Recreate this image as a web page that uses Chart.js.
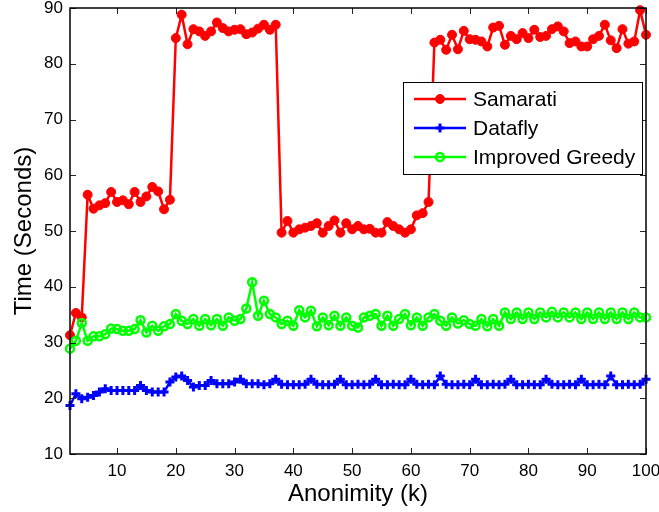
<!DOCTYPE html>
<html>
<head>
<meta charset="utf-8">
<script src="https://cdn.jsdelivr.net/npm/chart.js@4.4.0/dist/chart.umd.min.js"></script>
<style>
  html, body { margin: 0; padding: 0; background: #fff; }
</style>
</head>
<body>
<canvas id="timeChart" width="659" height="512"></canvas>
<script>
// anonimity level k
const kValues = [
  2, 3, 4, 5, 6, 7, 8, 9, 10, 11, 12, 13, 14, 15, 16, 17, 18, 19, 20, 21,
  22, 23, 24, 25, 26, 27, 28, 29, 30, 31, 32, 33, 34, 35, 36, 37, 38, 39, 40, 41,
  42, 43, 44, 45, 46, 47, 48, 49, 50, 51, 52, 53, 54, 55, 56, 57, 58, 59, 60, 61,
  62, 63, 64, 65, 66, 67, 68, 69, 70, 71, 72, 73, 74, 75, 76, 77, 78, 79, 80, 81,
  82, 83, 84, 85, 86, 87, 88, 89, 90, 91, 92, 93, 94, 95, 96, 97, 98, 99, 100
];

const samarati = [
  31.3, 35.3, 34.5, 56.5, 54.0, 54.6, 55.0, 57.0, 55.2, 55.5, 54.8, 57.0, 55.2, 56.2, 57.9, 57.1, 53.9, 55.6, 84.6, 88.8,
  83.5, 86.2, 85.8, 85.0, 85.8, 87.4, 86.4, 85.8, 86.1, 86.2, 85.3, 85.6, 86.3, 87.0, 86.1, 87.0, 49.7, 51.8, 49.7, 50.3,
  50.6, 50.9, 51.4, 49.7, 50.9, 51.9, 49.7, 51.4, 50.3, 50.9, 50.3, 50.4, 49.7, 49.7, 51.6, 50.9, 50.3, 49.7, 50.3, 52.8,
  53.2, 55.2, 83.8, 84.3, 82.5, 85.2, 82.6, 85.9, 84.4, 84.3, 84.0, 83.1, 86.5, 86.8, 83.4, 85.0, 84.4, 85.5, 84.6, 86.1,
  84.8, 85.0, 86.2, 86.7, 85.8, 83.7, 84.0, 83.1, 83.1, 84.4, 85.0, 87.0, 84.2, 82.8, 86.2, 83.6, 84.0, 89.6, 85.2
];

const datafly = [
  18.7, 20.8, 19.9, 20.2, 20.5, 21.1, 21.7, 21.4, 21.4, 21.4, 21.4, 21.4, 22.3, 21.4, 21.1, 21.1, 21.1, 22.9, 23.8, 24.0,
  23.2, 22.0, 22.3, 22.3, 23.2, 22.6, 22.6, 22.6, 22.9, 23.4, 22.6, 22.6, 22.6, 22.4, 22.6, 23.4, 22.5, 22.4, 22.4, 22.4,
  22.5, 23.4, 22.5, 22.4, 22.4, 22.5, 23.4, 22.4, 22.4, 22.5, 22.4, 22.5, 23.4, 22.4, 22.4, 22.5, 22.4, 22.4, 23.4, 22.5,
  22.4, 22.5, 22.4, 24.0, 22.5, 22.4, 22.4, 22.5, 22.4, 23.4, 22.4, 22.4, 22.5, 22.4, 22.5, 23.4, 22.4, 22.4, 22.5, 22.4,
  22.4, 23.4, 22.5, 22.4, 22.4, 22.5, 22.4, 23.4, 22.4, 22.4, 22.5, 22.4, 24.0, 22.4, 22.4, 22.5, 22.4, 22.5, 23.4
];

const improvedGreedy = [
  28.9, 30.3, 33.5, 30.3, 31.1, 31.1, 31.5, 32.5, 32.4, 32.1, 32.1, 32.4, 34.0, 31.8, 33.0, 32.1, 32.9, 33.3, 35.1, 33.9,
  33.3, 34.2, 33.0, 34.2, 33.1, 34.2, 33.0, 34.5, 33.9, 34.2, 36.1, 40.8, 34.8, 37.5, 35.1, 34.5, 33.3, 33.9, 33.0, 35.8,
  34.5, 35.7, 32.9, 34.5, 33.1, 34.8, 33.0, 34.5, 33.0, 32.7, 34.5, 34.8, 35.1, 33.0, 34.8, 33.0, 34.2, 35.1, 33.1, 34.5,
  33.0, 34.5, 35.1, 33.9, 33.0, 34.5, 33.4, 34.0, 33.3, 33.0, 34.2, 32.9, 34.2, 33.0, 35.4, 34.2, 35.4, 34.2, 35.4, 34.2,
  35.4, 34.5, 35.5, 34.5, 35.4, 34.5, 35.4, 34.2, 35.4, 34.2, 35.4, 34.2, 35.4, 34.2, 35.4, 34.2, 35.4, 34.5, 34.5
];

const xTickValues = [10, 20, 30, 40, 50, 60, 70, 80, 90, 100];
const yTickValues = [10, 20, 30, 40, 50, 60, 70, 80, 90];

const FONT = "'Liberation Sans', Arial, Helvetica, sans-serif";

const toPoints = (ys) => kValues.map((k, i) => ({ x: k, y: ys[i] }));

// matlab style box with inward ticks
const boxPlugin = {
    id: 'boxPlugin',
    afterDatasetsDraw(chart) {
        const { ctx, chartArea: a, scales } = chart;
        ctx.save();
        ctx.strokeStyle = '#262626';
        ctx.lineWidth = 1;
        ctx.beginPath();
        xTickValues.forEach(v => {
            const px = Math.round(scales.x.getPixelForValue(v)) + 0.5;
            ctx.moveTo(px, a.bottom); ctx.lineTo(px, a.bottom - 6);
            ctx.moveTo(px, a.top); ctx.lineTo(px, a.top + 6);
        });
        yTickValues.forEach(v => {
            const py = Math.round(scales.y.getPixelForValue(v)) + 0.5;
            ctx.moveTo(a.left, py); ctx.lineTo(a.left + 6, py);
            ctx.moveTo(a.right, py); ctx.lineTo(a.right - 6, py);
        });
        ctx.stroke();
        ctx.strokeStyle = '#000';
        ctx.lineWidth = 1.5;
        ctx.strokeRect(a.left, a.top, a.right - a.left, a.bottom - a.top);
        ctx.restore();
    }
};

const legendPlugin = {
    id: 'boxLegend',
    afterDraw(chart) {
        const ctx = chart.ctx;
        const left = 403, top = 82, width = 239, height = 92;
        ctx.save();
        ctx.fillStyle = '#fff';
        ctx.fillRect(left, top, width, height);
        ctx.strokeStyle = '#000';
        ctx.lineWidth = 1;
        ctx.strokeRect(left + 0.5, top + 0.5, width, height);
        ctx.font = '21px ' + FONT;
        ctx.textBaseline = 'middle';
        chart.data.datasets.forEach((ds, i) => {
            const y = 99 + i * 29;
            ctx.strokeStyle = ds.borderColor;
            ctx.lineWidth = ds.borderWidth;
            ctx.beginPath();
            ctx.moveTo(414, y);
            ctx.lineTo(466, y);
            ctx.stroke();
            ctx.fillStyle = ds.pointBackgroundColor;
            ctx.lineWidth = ds.pointBorderWidth;
            ctx.beginPath();
            if (ds.pointStyle === 'circle') {
                ctx.arc(440, y, ds.pointRadius, 0, Math.PI * 2);
                ctx.fill();
                ctx.stroke();
            } else {
                ctx.moveTo(440 - ds.pointRadius, y); ctx.lineTo(440 + ds.pointRadius, y);
                ctx.moveTo(440, y - ds.pointRadius); ctx.lineTo(440, y + ds.pointRadius);
                ctx.stroke();
            }
            ctx.fillStyle = '#000';
            ctx.fillText(ds.label, 473, y + 1);
        });
        ctx.restore();
    }
};

const ctx = document.getElementById('timeChart').getContext('2d');
new Chart(ctx, {
    type: 'line',
    data: {
        datasets: [{
            label: 'Samarati',
            data: toPoints(samarati),
            borderColor: '#ff0000',
            borderWidth: 2.5,
            pointStyle: 'circle',
            pointRadius: 4.5,
            pointBorderWidth: 1,
            pointBackgroundColor: '#ff0000',
            pointBorderColor: '#ff0000',
            order: 3,
            clip: false
        }, {
            label: 'Datafly',
            data: toPoints(datafly),
            borderColor: '#0000ff',
            borderWidth: 2.5,
            pointStyle: 'cross',
            pointRadius: 4.5,
            pointBorderWidth: 3,
            pointBackgroundColor: '#0000ff',
            pointBorderColor: '#0000ff',
            order: 2,
            clip: false
        }, {
            label: 'Improved Greedy',
            data: toPoints(improvedGreedy),
            borderColor: '#00ff00',
            borderWidth: 2.5,
            pointStyle: 'circle',
            pointRadius: 4,
            pointBorderWidth: 2.5,
            pointBackgroundColor: 'rgba(255,255,255,0)',
            pointBorderColor: '#00ff00',
            order: 1,
            clip: false
        }]
    },
    options: {
        responsive: false,
        animation: false,
        layout: { padding: { top: 8, right: 13, bottom: 0, left: 0 } },
        plugins: {
            legend: { display: false },
            tooltip: { enabled: false }
        },
        elements: { line: { tension: 0 } },
        scales: {
            x: {
                type: 'linear',
                min: 2,
                max: 100,
                afterBuildTicks: (axis) => { axis.ticks = xTickValues.map(v => ({ value: v })); },
                afterFit: (axis) => {
                    axis.height = 58;
                    axis.paddingLeft = 0;
                    axis.paddingRight = 0;
                },
                grid: { display: false, drawTicks: false },
                border: { display: false },
                ticks: { color: '#000', padding: 7, font: { family: FONT, size: 17 } },
                title: {
                    display: true,
                    text: 'Anonimity (k)',
                    color: '#000',
                    padding: { top: 0, bottom: 3 },
                    font: { family: FONT, size: 24 }
                }
            },
            y: {
                min: 10,
                max: 90,
                afterBuildTicks: (axis) => { axis.ticks = yTickValues.map(v => ({ value: v })); },
                afterFit: (axis) => {
                    axis.width = 70;
                    axis.paddingTop = 0;
                    axis.paddingBottom = 0;
                },
                grid: { display: false, drawTicks: false },
                border: { display: false },
                ticks: { color: '#000', padding: 7, font: { family: FONT, size: 17 } },
                title: {
                    display: true,
                    text: 'Time (Seconds)',
                    color: '#000',
                    padding: { top: 10, bottom: 0 },
                    font: { family: FONT, size: 24 }
                }
            }
        }
    },
    plugins: [boxPlugin, legendPlugin]
});
</script>
</body>
</html>
